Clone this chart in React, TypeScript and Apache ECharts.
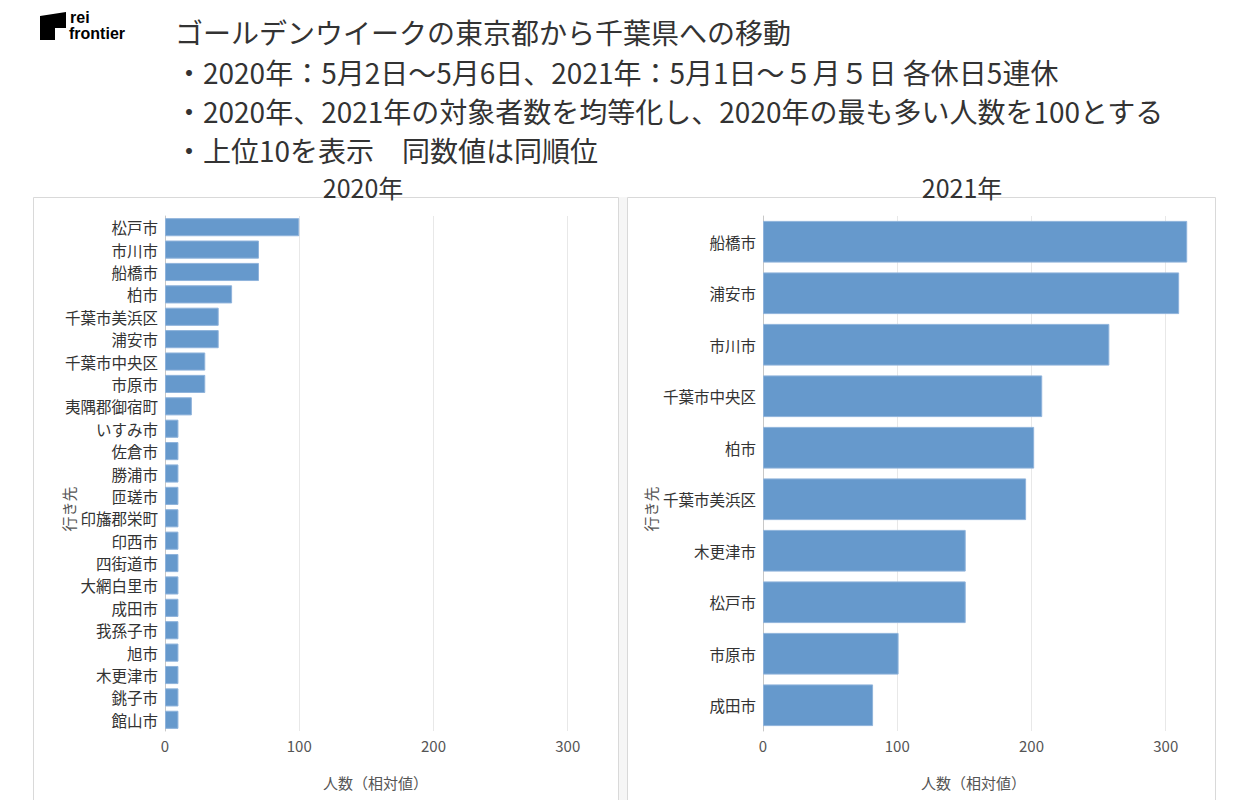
import React, { useEffect, useRef } from "react";
import * as echarts from "echarts";

const titleLines = [
  "ゴールデンウイークの東京都から千葉県への移動",
  "・2020年：5月2日～5月6日、2021年：5月1日～５月５日 各休日5連休",
  "・2020年、2021年の対象者数を均等化し、2020年の最も多い人数を100とする",
  "・上位10を表示　同数値は同順位",
];
const panelTitles = ["2020年", "2021年"];
const yName = "行き先";
const xName = "人数（相対値）";
const tickValues = [100, 200, 300];

const cats2020 = [
  "松戸市", "市川市", "船橋市", "柏市", "千葉市美浜区", "浦安市", "千葉市中央区", "市原市",
  "夷隅郡御宿町", "いすみ市", "佐倉市", "勝浦市", "匝瑳市", "印旛郡栄町", "印西市", "四街道市",
  "大網白里市", "成田市", "我孫子市", "旭市", "木更津市", "銚子市", "館山市",
];
const vals2020 = [100, 70, 70, 50, 40, 40, 30, 30, 20, 10, 10, 10, 10, 10, 10, 10, 10, 10, 10, 10, 10, 10, 10];

const cats2021 = ["船橋市", "浦安市", "市川市", "千葉市中央区", "柏市", "千葉市美浜区", "木更津市", "松戸市", "市原市", "成田市"];
const vals2021 = [316, 310, 258, 208, 202, 196, 151, 151, 101, 82];

const FONT = "'Noto Sans CJK JP', 'Noto Sans', sans-serif";
const BAR = "#6699cc";

export default function App() {
  const ref = useRef<HTMLDivElement>(null);
  useEffect(() => {
    document.body.style.margin = "0";
    const chart = echarts.init(ref.current!, null, { renderer: "svg" });
    const grids = [
      { left: 165, top: 216, width: 443, height: 515 },
      { left: 763, top: 216, width: 443, height: 515 },
    ];
    const xAxis = grids.map((_, i) => ({
      type: "value",
      gridIndex: i,
      min: 0,
      max: 330,
      interval: 100,
      splitLine: { show: false },
      axisLine: { show: false },
      axisTick: { show: false },
      axisLabel: {
        color: "#555",
        fontSize: 15,
        fontFamily: FONT,
        margin: 7,
        formatter: (v: number) => (v % 100 === 0 ? String(v) : ""),
      },
      name: xName,
      nameLocation: "middle",
      nameGap: 44,
      nameTextStyle: { color: "#555", fontSize: 15, fontFamily: FONT, padding: [0, 22, 0, 0] },
    }));
    const yAxis = [cats2020, cats2021].map((cats, i) => ({
      type: "category",
      gridIndex: i,
      data: cats,
      inverse: true,
      axisLine: { show: true, lineStyle: { color: "#c8c8c8", width: 1 } },
      axisTick: { show: false },
      axisLabel: { color: "#333", fontSize: 15.5, fontFamily: FONT, margin: 7 },
    }));
    const mkGridLines = {
      silent: true,
      symbol: "none",
      z: 0,
      label: { show: false },
      emphasis: { disabled: true },
      lineStyle: { color: "#e8e8e8", type: "solid", width: 1 },
      data: tickValues.map((v) => ({ xAxis: v })),
    };
    const series = [
      {
        type: "bar",
        xAxisIndex: 0,
        yAxisIndex: 0,
        data: vals2020,
        barCategoryGap: "19%",
        itemStyle: { color: BAR, borderColor: "#8fb3db", borderWidth: 1 },
        markLine: mkGridLines,
        z: 3,
      },
      {
        type: "bar",
        xAxisIndex: 1,
        yAxisIndex: 1,
        data: vals2021,
        barCategoryGap: "19%",
        itemStyle: { color: BAR, borderColor: "#8fb3db", borderWidth: 1 },
        markLine: mkGridLines,
        z: 3,
      },
    ];
    const titleYs = [32, 72, 111, 150];
    const graphic: any[] = [
      { type: "rect", shape: { x: 619, y: 197, width: 8, height: 610 }, style: { fill: "#f6f6f6" }, z: -10 },
      { type: "rect", shape: { x: 33.5, y: 197.5, width: 585, height: 610 }, style: { fill: "#fff", stroke: "#d9d9d9", lineWidth: 1 }, z: -9 },
      { type: "rect", shape: { x: 627.5, y: 197.5, width: 588, height: 610 }, style: { fill: "#fff", stroke: "#d9d9d9", lineWidth: 1 }, z: -9 },
      {
        type: "polygon",
        shape: { points: [[40, 16], [66, 12], [66, 28], [55, 28], [55, 40], [40, 40]] },
        style: { fill: "#000" },
      },
      { type: "text", x: 70, y: 10, style: { text: "rei", fontSize: 16, lineHeight: 15, fontWeight: "bold", fontFamily: "Liberation Sans, Arial", fill: "#000" } },
      { type: "text", x: 69, y: 26, style: { text: "frontier", fontSize: 16, lineHeight: 15, fontWeight: "bold", fontFamily: "Liberation Sans, Arial", fill: "#000" } },
      ...titleLines.map((t, i) => ({
        type: "text",
        x: 175,
        y: titleYs[i],
        style: { text: t, fontSize: 28, fontFamily: FONT, fill: "#333", verticalAlign: "middle", align: "left" },
      })),
      { type: "text", x: 363, y: 187, style: { text: panelTitles[0], fontSize: 25, fontFamily: FONT, fill: "#333", align: "center", verticalAlign: "middle" } },
      { type: "text", x: 962, y: 187, style: { text: panelTitles[1], fontSize: 25, fontFamily: FONT, fill: "#333", align: "center", verticalAlign: "middle" } },
      { type: "text", x: 68, y: 509, rotation: Math.PI / 2, style: { text: yName, fontSize: 15, fontFamily: FONT, fill: "#555", align: "center", verticalAlign: "middle" } },
      { type: "text", x: 650, y: 509, rotation: Math.PI / 2, style: { text: yName, fontSize: 15, fontFamily: FONT, fill: "#555", align: "center", verticalAlign: "middle" } },
    ];
    chart.setOption({
      animation: false,
      backgroundColor: "#fff",
      grid: grids,
      xAxis,
      yAxis,
      series,
      graphic,
    });
    return () => chart.dispose();
  }, []);
  return <div ref={ref} style={{ width: 1250, height: 800 }} />;
}
